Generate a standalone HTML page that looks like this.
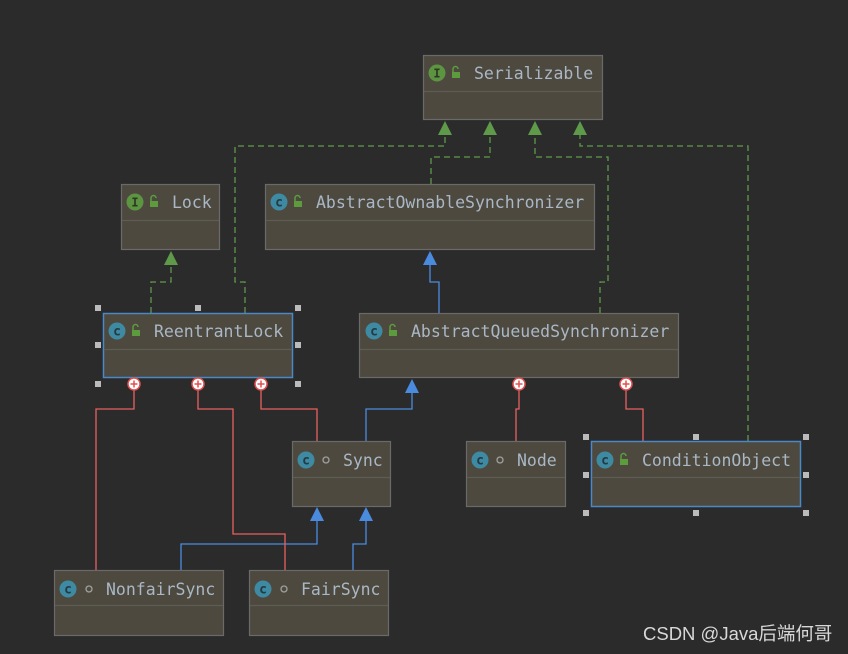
<!DOCTYPE html>
<html><head><meta charset="utf-8"><style>
html,body{margin:0;padding:0;background:#2b2b2b;}
svg{display:block}
text{font-family:"DejaVu Sans Mono","Liberation Mono",monospace;font-size:16.5px;fill:#a9b7c6}
.box{fill:#4d493e;stroke:#6a6a6a;stroke-width:1.2}
.sel{fill:#4d493e;stroke:#4a88c7;stroke-width:1.5}
.hl{stroke:#5e5c55;stroke-width:1.2}
.g{stroke:#5f9a4a;stroke-width:1.3;fill:none;stroke-dasharray:6,4}
.b{stroke:#4a8be0;stroke-width:1.3;fill:none}
.r{stroke:#e86060;stroke-width:1.3;fill:none}
.h{fill:#bbbbbb}
</style></head><body>
<svg width="848" height="654" viewBox="0 0 848 654">
<rect width="848" height="654" fill="#2b2b2b"/>
<defs>
<g id="ic"><circle r="8.5" fill="#3e8aa3"/><text x="0" y="4.5" text-anchor="middle" style="font-size:13px;fill:#243a44;font-weight:bold">c</text></g>
<g id="ii"><circle r="8.5" fill="#5c9441"/><text x="0" y="4.5" text-anchor="middle" style="font-size:12px;fill:#2d3a22;font-weight:bold">I</text></g>
<g id="lk"><rect x="0" y="-2" width="8" height="6" fill="#5c9c3f"/><path d="M1,-2 v-3 a2.5,2.5 0 0 1 5,0" stroke="#5c9c3f" stroke-width="1.5" fill="none"/></g>
<g id="dot"><circle r="3" fill="none" stroke="#a0a0a0" stroke-width="1.3"/></g>
<g id="pl"><circle r="6" fill="#fff" stroke="#e05050" stroke-width="1.5"/><path d="M-3.5,0h7M0,-3.5v7" stroke="#e05050" stroke-width="1.5"/></g>
</defs>

<path class="g" d="M245,313 V282 H235 V146 H445 V128"/>
<path class="g" d="M151,313 V282 H171 V258"/>
<path class="g" d="M431,184 V157 H490 V128"/>
<path class="g" d="M600,313 V282 H608 V157 H535 V128"/>
<path class="g" d="M748,441 V146 H580 V128"/>
<g fill="#5f9a4a">
<path d="M438,135 L445,121 L452,135Z"/><path d="M483,135 L490,121 L497,135Z"/>
<path d="M528,135 L535,121 L542,135Z"/><path d="M573,135 L580,121 L587,135Z"/>
<path d="M164,265 L171,251 L178,265Z"/>
</g>
<path class="b" d="M439,313 V282 H430 V258"/>
<path class="b" d="M366,441 V409 H412 V386"/>
<path class="b" d="M181,570 V544 H317 V515"/>
<path class="b" d="M353,570 V544 H366 V515"/>
<g fill="#4a8be0">
<path d="M423,265 L430,251 L437,265Z"/><path d="M405,393 L412,379 L419,393Z"/>
<path d="M310,521 L317,507 L324,521Z"/><path d="M359,521 L366,507 L373,521Z"/>
</g>
<path class="r" d="M134,384 V409 H96 V570"/>
<path class="r" d="M198,384 V409 H233 V534 H285 V570"/>
<path class="r" d="M261,384 V409 H317 V441"/>
<path class="r" d="M519,384 V409 H516 V441"/>
<path class="r" d="M626,384 V409 H643 V441"/>

<rect class="box" x="423.5" y="55.5" width="179" height="64"/><line class="hl" x1="424" y1="91.5" x2="602" y2="91.5"/>
<use href="#ii" x="437" y="73"/><use href="#lk" x="452" y="74"/><text x="474" y="79">Serializable</text>
<rect class="box" x="121.5" y="184.5" width="98" height="65"/><line class="hl" x1="122" y1="220.5" x2="219" y2="220.5"/>
<use href="#ii" x="135" y="202"/><use href="#lk" x="150" y="203"/><text x="172" y="208">Lock</text>
<rect class="box" x="265.5" y="184.5" width="329" height="65"/><line class="hl" x1="266" y1="220.5" x2="594" y2="220.5"/>
<use href="#ic" x="279" y="202"/><use href="#lk" x="294" y="203"/><text x="316" y="208">AbstractOwnableSynchronizer</text>
<rect class="sel" x="103.5" y="313.5" width="189" height="64"/><line class="hl" x1="104" y1="349.5" x2="292" y2="349.5"/>
<use href="#ic" x="117" y="331"/><use href="#lk" x="132" y="332"/><text x="154" y="337">ReentrantLock</text>
<rect class="box" x="359.5" y="313.5" width="319" height="64"/><line class="hl" x1="360" y1="349.5" x2="678" y2="349.5"/>
<use href="#ic" x="374" y="331"/><use href="#lk" x="389" y="332"/><text x="411" y="337">AbstractQueuedSynchronizer</text>
<rect class="box" x="292.5" y="441.5" width="98" height="65"/><line class="hl" x1="293" y1="477.5" x2="390" y2="477.5"/>
<use href="#ic" x="306" y="460"/><use href="#dot" x="326" y="460"/><text x="343" y="466">Sync</text>
<rect class="box" x="466.5" y="441.5" width="99" height="65"/><line class="hl" x1="467" y1="477.5" x2="565" y2="477.5"/>
<use href="#ic" x="480" y="460"/><use href="#dot" x="500" y="460"/><text x="517" y="466">Node</text>
<rect class="sel" x="591.5" y="441.5" width="209" height="65"/><line class="hl" x1="592" y1="477.5" x2="800" y2="477.5"/>
<use href="#ic" x="605" y="460"/><use href="#lk" x="620" y="461"/><text x="642" y="466">ConditionObject</text>
<rect class="box" x="54.5" y="570.5" width="169" height="65"/><line class="hl" x1="55" y1="605.5" x2="223" y2="605.5"/>
<use href="#ic" x="68" y="589"/><use href="#dot" x="89" y="589"/><text x="106" y="595">NonfairSync</text>
<rect class="box" x="249.5" y="570.5" width="139" height="65"/><line class="hl" x1="250" y1="605.5" x2="388" y2="605.5"/>
<use href="#ic" x="263" y="589"/><use href="#dot" x="284" y="589"/><text x="301" y="595">FairSync</text>

<use href="#pl" x="134" y="384"/><use href="#pl" x="198" y="384"/><use href="#pl" x="261" y="384"/>
<use href="#pl" x="519" y="384"/><use href="#pl" x="626" y="384"/>

<g class="h">
<rect x="95" y="305" width="6" height="6"/><rect x="195" y="305" width="6" height="6"/><rect x="295" y="305" width="6" height="6"/>
<rect x="95" y="342" width="6" height="6"/><rect x="295" y="342" width="6" height="6"/>
<rect x="95" y="381" width="6" height="6"/><rect x="295" y="381" width="6" height="6"/>
<rect x="583" y="434" width="6" height="6"/><rect x="693" y="434" width="6" height="6"/><rect x="803" y="434" width="6" height="6"/>
<rect x="583" y="472" width="6" height="6"/><rect x="803" y="472" width="6" height="6"/>
<rect x="583" y="510" width="6" height="6"/><rect x="693" y="510" width="6" height="6"/><rect x="803" y="510" width="6" height="6"/>
</g>

<text x="643" y="640" style="font-family:'Liberation Sans','Noto Sans CJK SC',sans-serif;font-size:18.5px;fill:#d8d8d8">CSDN @Java后端何哥</text>
</svg>
</body></html>
